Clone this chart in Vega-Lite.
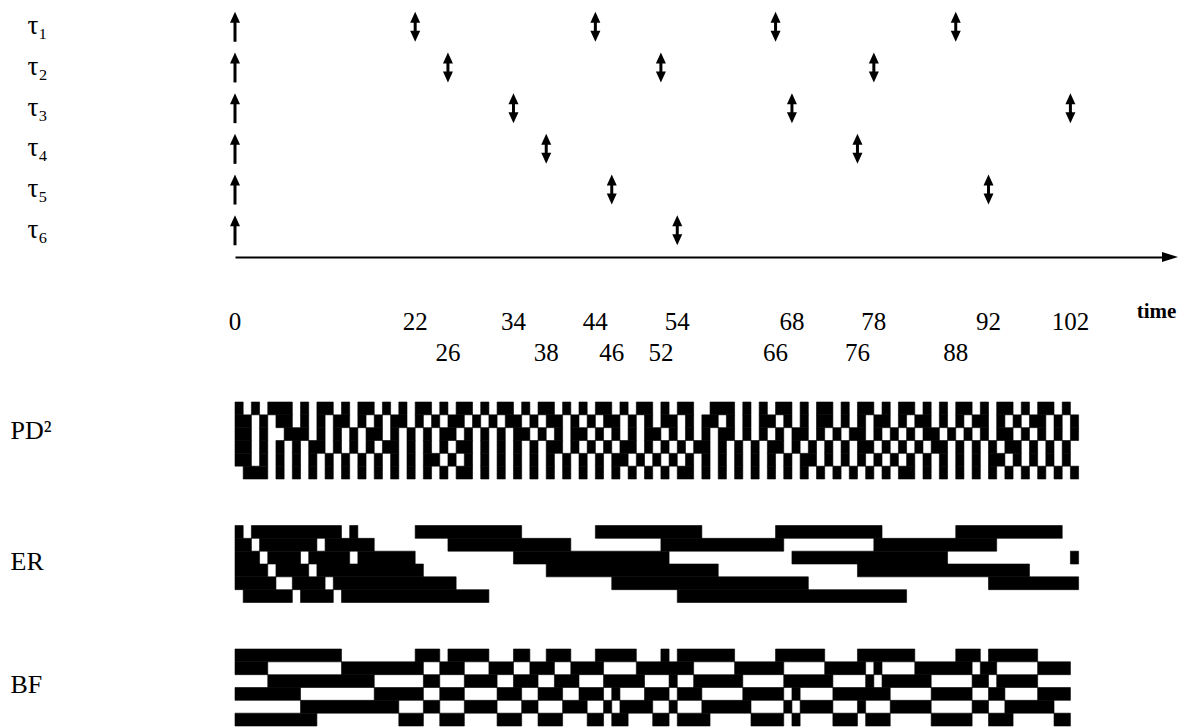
{
  "$schema": "https://vega.github.io/schema/vega-lite/v6.json",
  "background": "white",
  "padding": {"left": 10, "top": 0, "right": 0, "bottom": 0},
  "config": {"view": {"stroke": null}, "axis": {"grid": false}},
  "bounds": "flush",
  "spacing": 145,
  "datasets": {
    "arrows": [
      {"task": "τ₁", "t": 0, "kind": "release"}, {"task": "τ₁", "t": 22, "kind": "both"}, {"task": "τ₁", "t": 44, "kind": "both"}, {"task": "τ₁", "t": 66, "kind": "both"}, {"task": "τ₁", "t": 88, "kind": "both"},
      {"task": "τ₂", "t": 0, "kind": "release"}, {"task": "τ₂", "t": 26, "kind": "both"}, {"task": "τ₂", "t": 52, "kind": "both"}, {"task": "τ₂", "t": 78, "kind": "both"},
      {"task": "τ₃", "t": 0, "kind": "release"}, {"task": "τ₃", "t": 34, "kind": "both"}, {"task": "τ₃", "t": 68, "kind": "both"}, {"task": "τ₃", "t": 102, "kind": "both"},
      {"task": "τ₄", "t": 0, "kind": "release"}, {"task": "τ₄", "t": 38, "kind": "both"}, {"task": "τ₄", "t": 76, "kind": "both"},
      {"task": "τ₅", "t": 0, "kind": "release"}, {"task": "τ₅", "t": 46, "kind": "both"}, {"task": "τ₅", "t": 92, "kind": "both"},
      {"task": "τ₆", "t": 0, "kind": "release"}, {"task": "τ₆", "t": 54, "kind": "both"}
    ],
    "ticks": [
      {"t": 0, "level": 1}, {"t": 22, "level": 1}, {"t": 26, "level": 2}, {"t": 34, "level": 1}, {"t": 38, "level": 2}, {"t": 44, "level": 1}, {"t": 46, "level": 2}, {"t": 52, "level": 2},
      {"t": 54, "level": 1}, {"t": 66, "level": 2}, {"t": 68, "level": 1}, {"t": 76, "level": 2}, {"t": 78, "level": 1}, {"t": 88, "level": 2}, {"t": 92, "level": 1}, {"t": 102, "level": 1}
    ],
    "pd2": [
      {"task":1,"start":0,"end":1},{"task":1,"start":2,"end":3},{"task":1,"start":4,"end":7},{"task":1,"start":8,"end":9},{"task":1,"start":10,"end":12},{"task":1,"start":13,"end":14},{"task":1,"start":15,"end":17},{"task":1,"start":18,"end":19},{"task":1,"start":20,"end":21},{"task":1,"start":22,"end":24},{"task":1,"start":25,"end":26},{"task":1,"start":27,"end":29},{"task":1,"start":30,"end":31},{"task":1,"start":32,"end":34},{"task":1,"start":35,"end":36},{"task":1,"start":37,"end":39},{"task":1,"start":40,"end":41},{"task":1,"start":42,"end":43},{"task":1,"start":44,"end":46},{"task":1,"start":47,"end":48},{"task":1,"start":49,"end":51},{"task":1,"start":52,"end":53},{"task":1,"start":54,"end":56},{"task":1,"start":58,"end":61},{"task":1,"start":62,"end":63},{"task":1,"start":64,"end":65},{"task":1,"start":66,"end":68},{"task":1,"start":69,"end":70},{"task":1,"start":71,"end":73},{"task":1,"start":74,"end":75},{"task":1,"start":76,"end":78},{"task":1,"start":79,"end":80},{"task":1,"start":81,"end":83},{"task":1,"start":84,"end":85},{"task":1,"start":86,"end":87},{"task":1,"start":88,"end":90},{"task":1,"start":91,"end":92},{"task":1,"start":93,"end":95},{"task":1,"start":96,"end":97},{"task":1,"start":98,"end":100},{"task":1,"start":101,"end":102},
      {"task":2,"start":0,"end":2},{"task":2,"start":3,"end":4},{"task":2,"start":5,"end":7},{"task":2,"start":8,"end":9},{"task":2,"start":10,"end":11},{"task":2,"start":12,"end":14},{"task":2,"start":15,"end":16},{"task":2,"start":17,"end":18},{"task":2,"start":19,"end":21},{"task":2,"start":22,"end":23},{"task":2,"start":24,"end":25},{"task":2,"start":26,"end":28},{"task":2,"start":29,"end":30},{"task":2,"start":31,"end":32},{"task":2,"start":33,"end":35},{"task":2,"start":36,"end":37},{"task":2,"start":38,"end":40},{"task":2,"start":41,"end":42},{"task":2,"start":43,"end":44},{"task":2,"start":45,"end":47},{"task":2,"start":48,"end":49},{"task":2,"start":50,"end":51},{"task":2,"start":52,"end":54},{"task":2,"start":55,"end":56},{"task":2,"start":57,"end":59},{"task":2,"start":60,"end":61},{"task":2,"start":62,"end":63},{"task":2,"start":64,"end":66},{"task":2,"start":67,"end":68},{"task":2,"start":69,"end":70},{"task":2,"start":71,"end":73},{"task":2,"start":74,"end":75},{"task":2,"start":76,"end":77},{"task":2,"start":78,"end":80},{"task":2,"start":81,"end":82},{"task":2,"start":83,"end":85},{"task":2,"start":86,"end":87},{"task":2,"start":88,"end":89},{"task":2,"start":90,"end":92},{"task":2,"start":93,"end":94},{"task":2,"start":95,"end":96},{"task":2,"start":97,"end":99},{"task":2,"start":100,"end":101},{"task":2,"start":102,"end":103},
      {"task":3,"start":0,"end":2},{"task":3,"start":3,"end":4},{"task":3,"start":6,"end":9},{"task":3,"start":10,"end":11},{"task":3,"start":12,"end":13},{"task":3,"start":14,"end":15},{"task":3,"start":16,"end":18},{"task":3,"start":19,"end":20},{"task":3,"start":21,"end":22},{"task":3,"start":23,"end":24},{"task":3,"start":25,"end":27},{"task":3,"start":28,"end":29},{"task":3,"start":30,"end":31},{"task":3,"start":32,"end":33},{"task":3,"start":34,"end":36},{"task":3,"start":37,"end":38},{"task":3,"start":39,"end":40},{"task":3,"start":41,"end":43},{"task":3,"start":44,"end":45},{"task":3,"start":46,"end":47},{"task":3,"start":48,"end":49},{"task":3,"start":50,"end":52},{"task":3,"start":53,"end":54},{"task":3,"start":55,"end":56},{"task":3,"start":57,"end":58},{"task":3,"start":59,"end":61},{"task":3,"start":62,"end":63},{"task":3,"start":64,"end":65},{"task":3,"start":66,"end":67},{"task":3,"start":68,"end":70},{"task":3,"start":71,"end":72},{"task":3,"start":73,"end":74},{"task":3,"start":75,"end":77},{"task":3,"start":78,"end":79},{"task":3,"start":80,"end":81},{"task":3,"start":82,"end":83},{"task":3,"start":84,"end":86},{"task":3,"start":87,"end":88},{"task":3,"start":89,"end":90},{"task":3,"start":91,"end":92},{"task":3,"start":93,"end":95},{"task":3,"start":96,"end":97},{"task":3,"start":98,"end":99},{"task":3,"start":100,"end":101},{"task":3,"start":102,"end":103},
      {"task":4,"start":0,"end":2},{"task":4,"start":3,"end":4},{"task":4,"start":5,"end":6},{"task":4,"start":7,"end":8},{"task":4,"start":9,"end":11},{"task":4,"start":12,"end":13},{"task":4,"start":14,"end":15},{"task":4,"start":16,"end":17},{"task":4,"start":18,"end":20},{"task":4,"start":21,"end":22},{"task":4,"start":23,"end":24},{"task":4,"start":25,"end":26},{"task":4,"start":27,"end":29},{"task":4,"start":30,"end":31},{"task":4,"start":32,"end":33},{"task":4,"start":34,"end":35},{"task":4,"start":36,"end":37},{"task":4,"start":38,"end":40},{"task":4,"start":41,"end":42},{"task":4,"start":43,"end":44},{"task":4,"start":45,"end":46},{"task":4,"start":47,"end":49},{"task":4,"start":50,"end":51},{"task":4,"start":52,"end":53},{"task":4,"start":54,"end":55},{"task":4,"start":56,"end":58},{"task":4,"start":59,"end":60},{"task":4,"start":61,"end":62},{"task":4,"start":63,"end":64},{"task":4,"start":65,"end":67},{"task":4,"start":68,"end":69},{"task":4,"start":70,"end":71},{"task":4,"start":72,"end":73},{"task":4,"start":74,"end":75},{"task":4,"start":76,"end":78},{"task":4,"start":79,"end":80},{"task":4,"start":81,"end":82},{"task":4,"start":83,"end":84},{"task":4,"start":85,"end":87},{"task":4,"start":88,"end":89},{"task":4,"start":90,"end":91},{"task":4,"start":92,"end":93},{"task":4,"start":94,"end":96},{"task":4,"start":97,"end":98},{"task":4,"start":99,"end":100},{"task":4,"start":101,"end":102},
      {"task":5,"start":0,"end":2},{"task":5,"start":3,"end":4},{"task":5,"start":5,"end":6},{"task":5,"start":7,"end":8},{"task":5,"start":9,"end":10},{"task":5,"start":11,"end":12},{"task":5,"start":13,"end":14},{"task":5,"start":15,"end":16},{"task":5,"start":17,"end":18},{"task":5,"start":19,"end":20},{"task":5,"start":21,"end":22},{"task":5,"start":23,"end":25},{"task":5,"start":26,"end":27},{"task":5,"start":28,"end":29},{"task":5,"start":30,"end":31},{"task":5,"start":32,"end":33},{"task":5,"start":34,"end":35},{"task":5,"start":36,"end":37},{"task":5,"start":38,"end":39},{"task":5,"start":40,"end":41},{"task":5,"start":42,"end":43},{"task":5,"start":44,"end":45},{"task":5,"start":46,"end":48},{"task":5,"start":49,"end":50},{"task":5,"start":51,"end":52},{"task":5,"start":53,"end":54},{"task":5,"start":55,"end":56},{"task":5,"start":57,"end":58},{"task":5,"start":59,"end":60},{"task":5,"start":61,"end":62},{"task":5,"start":63,"end":64},{"task":5,"start":65,"end":66},{"task":5,"start":67,"end":68},{"task":5,"start":69,"end":71},{"task":5,"start":72,"end":73},{"task":5,"start":74,"end":75},{"task":5,"start":76,"end":77},{"task":5,"start":78,"end":79},{"task":5,"start":80,"end":81},{"task":5,"start":82,"end":83},{"task":5,"start":84,"end":85},{"task":5,"start":86,"end":87},{"task":5,"start":88,"end":89},{"task":5,"start":90,"end":91},{"task":5,"start":92,"end":94},{"task":5,"start":95,"end":96},{"task":5,"start":97,"end":98},{"task":5,"start":99,"end":100},{"task":5,"start":101,"end":102},
      {"task":6,"start":1,"end":4},{"task":6,"start":5,"end":6},{"task":6,"start":7,"end":8},{"task":6,"start":9,"end":10},{"task":6,"start":11,"end":12},{"task":6,"start":13,"end":14},{"task":6,"start":15,"end":16},{"task":6,"start":17,"end":18},{"task":6,"start":19,"end":20},{"task":6,"start":21,"end":22},{"task":6,"start":23,"end":24},{"task":6,"start":25,"end":26},{"task":6,"start":27,"end":29},{"task":6,"start":30,"end":31},{"task":6,"start":32,"end":33},{"task":6,"start":34,"end":35},{"task":6,"start":36,"end":37},{"task":6,"start":38,"end":39},{"task":6,"start":40,"end":41},{"task":6,"start":42,"end":43},{"task":6,"start":44,"end":45},{"task":6,"start":46,"end":47},{"task":6,"start":48,"end":49},{"task":6,"start":50,"end":51},{"task":6,"start":52,"end":53},{"task":6,"start":54,"end":56},{"task":6,"start":57,"end":58},{"task":6,"start":59,"end":60},{"task":6,"start":61,"end":62},{"task":6,"start":63,"end":64},{"task":6,"start":65,"end":66},{"task":6,"start":67,"end":68},{"task":6,"start":69,"end":70},{"task":6,"start":71,"end":72},{"task":6,"start":73,"end":74},{"task":6,"start":75,"end":76},{"task":6,"start":77,"end":78},{"task":6,"start":79,"end":80},{"task":6,"start":81,"end":83},{"task":6,"start":84,"end":85},{"task":6,"start":86,"end":87},{"task":6,"start":88,"end":89},{"task":6,"start":90,"end":91},{"task":6,"start":92,"end":93},{"task":6,"start":94,"end":95},{"task":6,"start":96,"end":97},{"task":6,"start":98,"end":99},{"task":6,"start":100,"end":101},{"task":6,"start":102,"end":103}
    ],
    "er": [
      {"task":1,"start":0,"end":1},{"task":1,"start":2,"end":13},{"task":1,"start":14,"end":15},{"task":1,"start":22,"end":35},{"task":1,"start":44,"end":57},{"task":1,"start":66,"end":79},{"task":1,"start":88,"end":101},
      {"task":2,"start":0,"end":2},{"task":2,"start":3,"end":10},{"task":2,"start":11,"end":17},{"task":2,"start":26,"end":41},{"task":2,"start":52,"end":67},{"task":2,"start":78,"end":93},
      {"task":3,"start":0,"end":3},{"task":3,"start":4,"end":8},{"task":3,"start":9,"end":14},{"task":3,"start":15,"end":22},{"task":3,"start":34,"end":53},{"task":3,"start":68,"end":87},{"task":3,"start":102,"end":103},
      {"task":4,"start":0,"end":4},{"task":4,"start":5,"end":9},{"task":4,"start":10,"end":23},{"task":4,"start":38,"end":59},{"task":4,"start":76,"end":97},
      {"task":5,"start":0,"end":5},{"task":5,"start":7,"end":11},{"task":5,"start":12,"end":27},{"task":5,"start":46,"end":70},{"task":5,"start":92,"end":103},
      {"task":6,"start":1,"end":7},{"task":6,"start":8,"end":12},{"task":6,"start":13,"end":31},{"task":6,"start":54,"end":82}
    ],
    "bf": [
      {"task":1,"start":0,"end":13},{"task":1,"start":22,"end":25},{"task":1,"start":26,"end":31},{"task":1,"start":34,"end":36},{"task":1,"start":38,"end":41},{"task":1,"start":44,"end":49},{"task":1,"start":52,"end":53},{"task":1,"start":54,"end":61},{"task":1,"start":66,"end":72},{"task":1,"start":76,"end":83},{"task":1,"start":88,"end":91},{"task":1,"start":92,"end":98},
      {"task":2,"start":0,"end":4},{"task":2,"start":13,"end":23},{"task":2,"start":25,"end":28},{"task":2,"start":31,"end":34},{"task":2,"start":36,"end":39},{"task":2,"start":41,"end":45},{"task":2,"start":49,"end":56},{"task":2,"start":61,"end":67},{"task":2,"start":72,"end":77},{"task":2,"start":78,"end":79},{"task":2,"start":83,"end":90},{"task":2,"start":91,"end":93},{"task":2,"start":98,"end":102},
      {"task":3,"start":4,"end":17},{"task":3,"start":23,"end":25},{"task":3,"start":28,"end":32},{"task":3,"start":34,"end":37},{"task":3,"start":39,"end":42},{"task":3,"start":45,"end":50},{"task":3,"start":53,"end":54},{"task":3,"start":56,"end":62},{"task":3,"start":67,"end":73},{"task":3,"start":77,"end":78},{"task":3,"start":79,"end":85},{"task":3,"start":90,"end":92},{"task":3,"start":93,"end":98},
      {"task":4,"start":0,"end":8},{"task":4,"start":17,"end":23},{"task":4,"start":25,"end":28},{"task":4,"start":32,"end":35},{"task":4,"start":37,"end":40},{"task":4,"start":42,"end":45},{"task":4,"start":46,"end":47},{"task":4,"start":50,"end":53},{"task":4,"start":54,"end":57},{"task":4,"start":62,"end":67},{"task":4,"start":68,"end":69},{"task":4,"start":73,"end":80},{"task":4,"start":85,"end":90},{"task":4,"start":92,"end":94},{"task":4,"start":98,"end":102},
      {"task":5,"start":8,"end":20},{"task":5,"start":23,"end":25},{"task":5,"start":28,"end":32},{"task":5,"start":35,"end":37},{"task":5,"start":40,"end":43},{"task":5,"start":45,"end":46},{"task":5,"start":47,"end":51},{"task":5,"start":53,"end":54},{"task":5,"start":57,"end":63},{"task":5,"start":67,"end":68},{"task":5,"start":69,"end":73},{"task":5,"start":76,"end":77},{"task":5,"start":80,"end":85},{"task":5,"start":90,"end":92},{"task":5,"start":94,"end":100},
      {"task":6,"start":0,"end":10},{"task":6,"start":20,"end":23},{"task":6,"start":25,"end":28},{"task":6,"start":32,"end":35},{"task":6,"start":37,"end":40},{"task":6,"start":43,"end":45},{"task":6,"start":46,"end":48},{"task":6,"start":51,"end":53},{"task":6,"start":54,"end":58},{"task":6,"start":63,"end":67},{"task":6,"start":68,"end":69},{"task":6,"start":73,"end":76},{"task":6,"start":77,"end":80},{"task":6,"start":85,"end":90},{"task":6,"start":92,"end":95},{"task":6,"start":100,"end":102}
    ]
  },
  "vconcat": [
    {
      "width": 935,
      "height": 257,
      "layer": [
        {
          "data": {"name": "arrows"},
          "transform": [{"filter": "datum.kind == 'release'"}],
          "mark": {"type": "tick", "size": 25, "thickness": 3, "yOffset": 2.5, "color": "black", "opacity": 1},
          "encoding": {
            "x": {"field": "t", "type": "quantitative", "title": "time",
                  "scale": {"domain": [0, 114.16], "nice": false, "zero": false},
                  "axis": {"orient": "bottom", "domain": true, "domainColor": "black", "domainWidth": 2, "ticks": false, "labels": false, "grid": false,
                           "title": "time", "titleX": 921, "titleY": 54, "titleAlign": "center", "titleBaseline": "middle", "titleAngle": 0,
                           "titleFont": "Liberation Serif", "titleFontSize": 21, "titleFontWeight": "bold", "titleColor": "black"}},
            "y": {"field": "task", "type": "ordinal", "title": null,
                  "scale": {"type": "point", "padding": 0.657, "domain": ["τ₁", "τ₂", "τ₃", "τ₄", "τ₅", "τ₆"]},
                  "axis": {"orient": "left", "title": null, "domain": false, "ticks": false, "tickSize": 0, "grid": false,
                           "labelAlign": "left", "labelPadding": 208, "labelBaseline": "middle", "labelOffset": -1,
                           "labelFont": "Liberation Serif", "labelFontSize": 27, "labelColor": "black"}}
          }
        },
        {
          "data": {"name": "arrows"},
          "transform": [{"filter": "datum.kind == 'both'"}],
          "mark": {"type": "tick", "size": 20, "thickness": 3, "color": "black", "opacity": 1},
          "encoding": {
            "x": {"field": "t", "type": "quantitative", "title": "time"},
            "y": {"field": "task", "type": "ordinal", "title": null}
          }
        },
        {
          "data": {"name": "arrows"},
          "mark": {"type": "point", "shape": "M-1,1L1,1L0,-1.2Z", "filled": true, "size": 100, "color": "black", "opacity": 1, "strokeWidth": 0, "yOffset": -9},
          "encoding": {
            "x": {"field": "t", "type": "quantitative", "title": "time"},
            "y": {"field": "task", "type": "ordinal", "title": null}
          }
        },
        {
          "data": {"name": "arrows"},
          "transform": [{"filter": "datum.kind == 'both'"}],
          "mark": {"type": "point", "shape": "M-1,-1L1,-1L0,1.2Z", "filled": true, "size": 100, "color": "black", "opacity": 1, "strokeWidth": 0, "yOffset": 9},
          "encoding": {
            "x": {"field": "t", "type": "quantitative", "title": "time"},
            "y": {"field": "task", "type": "ordinal", "title": null}
          }
        },
        {
          "data": {"name": "ticks"},
          "transform": [{"filter": "datum.level == 1"}],
          "mark": {"type": "text", "dy": 65, "align": "center", "baseline": "middle", "font": "Liberation Serif", "fontSize": 25, "color": "black"},
          "encoding": {
            "x": {"field": "t", "type": "quantitative", "title": "time"},
            "y": {"value": "height"},
            "text": {"field": "t", "type": "quantitative", "format": "d"}
          }
        },
        {
          "data": {"name": "ticks"},
          "transform": [{"filter": "datum.level == 2"}],
          "mark": {"type": "text", "dy": 96, "align": "center", "baseline": "middle", "font": "Liberation Serif", "fontSize": 25, "color": "black"},
          "encoding": {
            "x": {"field": "t", "type": "quantitative", "title": "time"},
            "y": {"value": "height"},
            "text": {"field": "t", "type": "quantitative", "format": "d"}
          }
        },
        {
          "data": {"values": [{"part": "axis end"}]},
          "mark": {"type": "point", "shape": "M-1.6,-1L1.6,0L-1.6,1Z", "filled": true, "size": 100, "color": "black", "opacity": 1, "strokeWidth": 0},
          "encoding": {
            "x": {"value": "width"},
            "y": {"value": "height"}
          }
        }
      ]
    },
    {
      "bounds": "flush",
      "spacing": 46.5,
      "vconcat": [
        {
          "width": 935, "height": 77,
          "data": {"name": "pd2"},
          "mark": {"type": "rect", "fill": "black", "stroke": "black", "strokeWidth": 0.6, "opacity": 1},
          "encoding": {
            "x": {"field": "start", "type": "quantitative", "scale": {"domain": [0, 114.16], "nice": false, "zero": false}, "axis": null},
            "x2": {"field": "end"},
            "y": {"field": "task", "type": "ordinal",
                  "scale": {"domain": [1, 2, 3, 4, 5, 6], "paddingInner": 0, "paddingOuter": 0},
                  "axis": {"title": "PD²", "labels": false, "ticks": false, "domain": false, "grid": false,
                           "titleAngle": 0, "titleAlign": "left", "titleBaseline": "alphabetic", "titleX": -225, "titleY": 36,
                           "titleFont": "Liberation Serif", "titleFontSize": 26, "titleFontWeight": "normal", "titleColor": "black"}}
          }
        },
        {
          "width": 935, "height": 77,
          "data": {"name": "er"},
          "mark": {"type": "rect", "fill": "black", "stroke": "black", "strokeWidth": 0.6, "opacity": 1},
          "encoding": {
            "x": {"field": "start", "type": "quantitative", "scale": {"domain": [0, 114.16], "nice": false, "zero": false}, "axis": null},
            "x2": {"field": "end"},
            "y": {"field": "task", "type": "ordinal",
                  "scale": {"domain": [1, 2, 3, 4, 5, 6], "paddingInner": 0, "paddingOuter": 0},
                  "axis": {"title": "ER", "labels": false, "ticks": false, "domain": false, "grid": false,
                           "titleAngle": 0, "titleAlign": "left", "titleBaseline": "alphabetic", "titleX": -225, "titleY": 44,
                           "titleFont": "Liberation Serif", "titleFontSize": 26, "titleFontWeight": "normal", "titleColor": "black"}}
          }
        },
        {
          "width": 935, "height": 77,
          "data": {"name": "bf"},
          "mark": {"type": "rect", "fill": "black", "stroke": "black", "strokeWidth": 0.6, "opacity": 1},
          "encoding": {
            "x": {"field": "start", "type": "quantitative", "scale": {"domain": [0, 114.16], "nice": false, "zero": false}, "axis": null},
            "x2": {"field": "end"},
            "y": {"field": "task", "type": "ordinal",
                  "scale": {"domain": [1, 2, 3, 4, 5, 6], "paddingInner": 0, "paddingOuter": 0},
                  "axis": {"title": "BF", "labels": false, "ticks": false, "domain": false, "grid": false,
                           "titleAngle": 0, "titleAlign": "left", "titleBaseline": "alphabetic", "titleX": -225, "titleY": 43,
                           "titleFont": "Liberation Serif", "titleFontSize": 26, "titleFontWeight": "normal", "titleColor": "black"}}
          }
        }
      ]
    }
  ]
}
